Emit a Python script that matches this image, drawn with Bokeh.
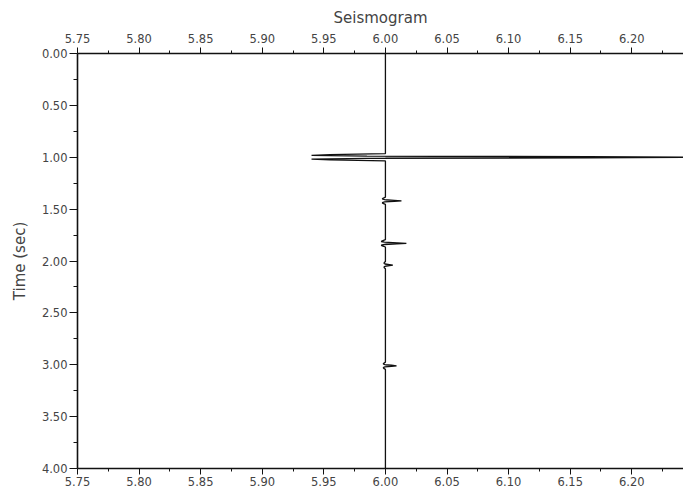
import numpy as np
from bokeh.plotting import figure
from bokeh.models import Range1d, LinearAxis, FixedTicker, PrintfTickFormatter
from bokeh.embed import file_html
from bokeh.resources import INLINE

# ---- data ----
title_text = "Seismogram"
y_label = "Time (sec)"
x_ticks = [5.75, 5.80, 5.85, 5.90, 5.95, 6.00, 6.05, 6.10, 6.15, 6.20]
x_minor = [5.775, 5.825, 5.875, 5.925, 5.975, 6.025, 6.075, 6.125, 6.175, 6.225]
y_ticks = [0.0, 0.5, 1.0, 1.5, 2.0, 2.5, 3.0, 3.5, 4.0]
y_minor = [0.25, 0.75, 1.25, 1.75, 2.25, 2.75, 3.25, 3.75]

trace_offset = 6.00                     # trace position
event_times = [1.00, 1.42, 1.83, 2.04, 3.01]
event_amps = [0.30, 0.013, 0.017, 0.006, 0.009]
wavelet_dt = [-0.035, -0.025, -0.018, -0.011, -0.005, 0.0, 0.005, 0.011, 0.018, 0.025, 0.035]
wavelet_w = [0.0, -0.15, -0.2, -0.05, 0.55, 1.0, 0.55, -0.05, -0.2, -0.15, 0.0]

# ---- build trace polyline ----
xs = [trace_offset]
ys = [0.0]
for t0, a in zip(event_times, event_amps):
    for dt, w in zip(wavelet_dt, wavelet_w):
        xs.append(trace_offset + a * w)
        ys.append(t0 + dt)
xs.append(trace_offset)
ys.append(4.0)
xs = np.array(xs)
ys = np.array(ys)

FONT = "DejaVu Sans"
TXT = "#444444"

p = figure(width=683, height=496, output_backend="svg", toolbar_location=None,
           x_range=Range1d(5.75, 6.242), y_range=Range1d(4.0, 0.0),
           x_axis_location=None, y_axis_location=None,
           min_border_left=77, min_border_right=0, min_border_top=53, min_border_bottom=28)
p.outline_line_color = None
p.grid.visible = False
p.background_fill_color = "white"
p.border_fill_color = "white"

p.title.text = title_text
p.title.align = "center"
p.title.text_font = FONT
p.title.text_font_size = "15px"
p.title.text_font_style = "normal"
p.title.text_color = TXT
p.title.standoff = 7

def style(ax, major_out, minor_out):
    ax.axis_line_color = "#111111"
    ax.axis_line_width = 1.6
    ax.major_tick_line_color = "#111111"
    ax.minor_tick_line_color = "#111111"
    ax.major_tick_in = 0
    ax.minor_tick_in = 0
    ax.major_tick_out = major_out
    ax.minor_tick_out = minor_out
    ax.major_label_text_font = FONT
    ax.major_label_text_font_size = "11.5px"
    ax.major_label_text_color = TXT
    ax.major_label_standoff = 2
    ax.axis_label_text_font = FONT
    ax.axis_label_text_font_style = "normal"
    ax.axis_label_text_color = TXT

xt = FixedTicker(ticks=x_ticks, minor_ticks=x_minor)
yt = FixedTicker(ticks=y_ticks, minor_ticks=y_minor)
fmt = PrintfTickFormatter(format="%.2f")

top = LinearAxis(ticker=xt, formatter=fmt)
style(top, 6, 3)
top.major_label_standoff = 5
p.add_layout(top, "above")

bottom = LinearAxis(ticker=xt, formatter=fmt)
style(bottom, 6, 3)
p.add_layout(bottom, "below")

left = LinearAxis(ticker=yt, formatter=fmt, axis_label=y_label)
style(left, 8, 4)
left.axis_label_text_font_size = "15px"
left.axis_label_standoff = 10
p.add_layout(left, "left")

# positive lobe fill
pos = np.maximum(xs, trace_offset)
p.harea(x1=np.full_like(xs, trace_offset), x2=pos, y=ys, fill_color="#b0b0b0", fill_alpha=1.0)
p.line(xs, ys, line_color="#111111", line_width=1.3)

open("out.html", "w").write(file_html(p, INLINE))
